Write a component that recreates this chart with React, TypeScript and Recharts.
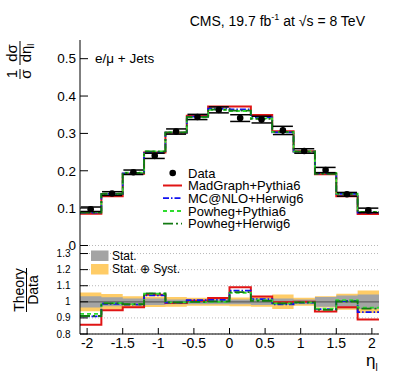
import React from 'react';
import {
  ComposedChart,
  Line,
  Scatter,
  ErrorBar,
  XAxis,
  YAxis,
  Area,
  ReferenceLine,
  CartesianGrid,
} from 'recharts';

// ---------- data ----------
const binEdges = [-2.1, -1.8, -1.5, -1.2, -0.9, -0.6, -0.3, 0, 0.3, 0.6, 0.9, 1.2, 1.5, 1.8, 2.1];
const binCenters = [-1.95, -1.65, -1.35, -1.05, -0.75, -0.45, -0.15, 0.15, 0.45, 0.75, 1.05, 1.35, 1.65, 1.95];

const dataValues = [0.097, 0.139, 0.196, 0.240, 0.305, 0.344, 0.363, 0.341, 0.337, 0.308, 0.253, 0.202, 0.137, 0.094];
const dataErrors = [0.006, 0.005, 0.006, 0.007, 0.007, 0.007, 0.008, 0.009, 0.009, 0.011, 0.006, 0.007, 0.005, 0.006];

const madgraphPythia6 = [0.085, 0.132, 0.192, 0.249, 0.302, 0.347, 0.372, 0.372, 0.349, 0.306, 0.252, 0.191, 0.132, 0.084];
const mcatnloHerwig6 = [0.088, 0.138, 0.193, 0.250, 0.302, 0.345, 0.366, 0.364, 0.343, 0.303, 0.251, 0.193, 0.138, 0.088];
const powhegPythia6 = [0.090, 0.139, 0.195, 0.252, 0.303, 0.343, 0.363, 0.360, 0.340, 0.304, 0.252, 0.194, 0.139, 0.090];
const powhegHerwig6 = [0.088, 0.138, 0.194, 0.252, 0.303, 0.344, 0.364, 0.361, 0.339, 0.304, 0.251, 0.192, 0.138, 0.090];

const ratioMadgraph = [0.858, 0.948, 0.966, 1.044, 0.992, 1.006, 1.023, 1.090, 1.033, 0.998, 1.000, 0.940, 0.966, 0.890];
const ratioMcatnlo = [0.910, 0.988, 0.982, 1.040, 0.995, 1.010, 1.012, 1.069, 1.017, 0.985, 0.995, 0.955, 1.004, 0.936];
const ratioPowhegPy = [0.925, 0.992, 0.986, 1.050, 0.996, 0.998, 1.000, 1.056, 1.010, 0.990, 0.997, 0.958, 1.010, 0.964];
const ratioPowhegHw = [0.912, 0.990, 0.985, 1.052, 0.996, 1.000, 1.003, 1.060, 1.006, 0.990, 0.996, 0.950, 1.002, 0.958];

const statRelErr = [0.035, 0.028, 0.020, 0.020, 0.015, 0.015, 0.015, 0.015, 0.020, 0.020, 0.015, 0.030, 0.040, 0.045];
const totalRelErr = [0.058, 0.048, 0.035, 0.032, 0.030, 0.025, 0.025, 0.027, 0.030, 0.045, 0.025, 0.035, 0.050, 0.070];

const xMajorTicks = [-2, -1.5, -1, -0.5, 0, 0.5, 1, 1.5, 2];
const upperYTicks = [0, 0.1, 0.2, 0.3, 0.4, 0.5];
const lowerYTicks = [0.8, 0.9, 1, 1.1, 1.2, 1.3];

const legendNames = ['Data', 'MadGraph+Pythia6', 'MC@NLO+Herwig6', 'Powheg+Pythia6', 'Powheg+Herwig6'];
const bandNames = ['Stat.', 'Stat. \u2295 Syst.'];

// ---------- styles ----------
const FONT = '"Liberation Sans", Arial, Helvetica, sans-serif';
const RED = '#e01414';
const BLUE = '#1010f0';
const LGREEN = '#2fdc2f';
const DGREEN = '#137a13';
const GRAY = '#a4a4a4';
const ORANGE = '#ffcc66';

const seq = (a: number, b: number, s: number) => {
  const out: number[] = [];
  const n = Math.round((b - a) / s);
  for (let i = 0; i <= n; i++) out.push(+(a + i * s).toFixed(4));
  return out;
};
const xMinorTicks = seq(-2.1, 2.1, 0.1);
const upperYMinor = seq(0, 0.54, 0.02);
const lowerYMinor = seq(0.8, 1.34, 0.02);

// ---------- tables ----------
const nBins = binCenters.length;
const upperTable = binEdges.map((x, i) => {
  const j = Math.min(i, nBins - 1);
  return {
    x,
    mg: madgraphPythia6[j],
    mc: mcatnloHerwig6[j],
    pp: powhegPythia6[j],
    ph: powhegHerwig6[j],
  };
});
const lowerTable = binEdges.map((x, i) => {
  const j = Math.min(i, nBins - 1);
  return {
    x,
    mg: ratioMadgraph[j],
    mc: ratioMcatnlo[j],
    pp: ratioPowhegPy[j],
    ph: ratioPowhegHw[j],
    stat: [1 - statRelErr[j], 1 + statRelErr[j]],
    tot: [1 - totalRelErr[j], 1 + totalRelErr[j]],
  };
});
const pointTable = binCenters.map((x, i) => ({ x, y: dataValues[i], err: dataErrors[i] }));

const DOMAIN_X: [number, number] = [-2.1, 2.1];
const tl = { stroke: '#000', strokeWidth: 1 };

const series = [
  { key: 'mg', color: RED, dash: undefined as string | undefined, width: 2 },
  { key: 'mc', color: BLUE, dash: '6 2 1.5 2', width: 1.8 },
  { key: 'pp', color: LGREEN, dash: '4 3', width: 1.8 },
  { key: 'ph', color: DGREEN, dash: '10 3 2 3', width: 1.8 },
];

function xAxes(majorLen: number, minorLen: number, withLabels: boolean, labelHeight: number) {
  return [
    <XAxis key="xm" xAxisId="xm" type="number" dataKey="x" domain={DOMAIN_X} allowDataOverflow
      ticks={xMinorTicks} interval={0} tick={false} tickLine={tl} tickSize={-minorLen} axisLine={false} height={0} />,
    <XAxis key="x" xAxisId="x" type="number" dataKey="x" domain={DOMAIN_X} allowDataOverflow
      ticks={xMajorTicks} interval={0}
      tick={withLabels ? { fill: '#000', fontSize: 14, fontFamily: FONT } : false}
      tickFormatter={(v: number) => String(v)}
      tickLine={tl} tickSize={-majorLen} tickMargin={majorLen + 4}
      axisLine={{ stroke: '#000', strokeWidth: 1 }} height={labelHeight} />,
    <XAxis key="xtm" xAxisId="xtm" orientation="top" type="number" dataKey="x" domain={DOMAIN_X} allowDataOverflow
      ticks={xMinorTicks} interval={0} tick={false} tickLine={tl} tickSize={-minorLen} axisLine={false} height={0} />,
    <XAxis key="xt" xAxisId="xt" orientation="top" type="number" dataKey="x" domain={DOMAIN_X} allowDataOverflow
      ticks={xMajorTicks} interval={0} tick={false} tickLine={tl} tickSize={-majorLen}
      axisLine={{ stroke: '#000', strokeWidth: 1 }} height={0} />,
  ];
}

function yAxes(domain: [number, number], major: number[], minor: number[], fmt: (v: number) => string,
  fontSize: number, margin: number, majorLen: number, minorLen: number) {
  return [
    <YAxis key="ym" yAxisId="ym" type="number" domain={domain} allowDataOverflow ticks={minor} interval={0}
      tick={false} tickLine={tl} tickSize={-minorLen} axisLine={false} width={0} />,
    <YAxis key="y" yAxisId="y" type="number" domain={domain} allowDataOverflow ticks={major} interval={0}
      tick={{ fill: '#000', fontSize, fontFamily: FONT }} tickFormatter={fmt}
      tickLine={tl} tickSize={-majorLen} tickMargin={majorLen + margin}
      axisLine={{ stroke: '#000', strokeWidth: 1 }} width={80} />,
    <YAxis key="yrm" yAxisId="yrm" orientation="right" type="number" domain={domain} allowDataOverflow ticks={minor}
      interval={0} tick={false} tickLine={tl} tickSize={-minorLen} axisLine={false} width={0} />,
    <YAxis key="yr" yAxisId="yr" orientation="right" type="number" domain={domain} allowDataOverflow ticks={major}
      interval={0} tick={false} tickLine={tl} tickSize={-majorLen}
      axisLine={{ stroke: '#000', strokeWidth: 1 }} width={0} />,
  ];
}

const DataDot = (props: any) => {
  const { cx, cy } = props;
  if (cx == null || cy == null) return null;
  return <circle cx={cx} cy={cy} r={3.3} fill="#000" />;
};

function UpperChart() {
  return (
    <ComposedChart width={399} height={262} data={upperTable}
      margin={{ top: 40, right: 20, bottom: 16.5, left: 0 }}>
      {xAxes(9, 5, false, 0)}
      {yAxes([0, 0.55], upperYTicks, upperYMinor, (v) => (v === 0 ? '0' : v.toFixed(1)), 13.5, 4, 8, 4)}
      {series.map((s) => (
        <Line key={s.key} xAxisId="x" yAxisId="y" type="stepAfter" dataKey={s.key} stroke={s.color}
          strokeWidth={s.width} strokeDasharray={s.dash} dot={false} activeDot={false}
          isAnimationActive={false} />
      ))}
      <Scatter xAxisId="x" yAxisId="y" data={pointTable} dataKey="y" shape={DataDot} isAnimationActive={false}>
        <ErrorBar dataKey="err" direction="y" width={10} stroke="#000" strokeWidth={1.5} />
      </Scatter>
    </ComposedChart>
  );
}

function LowerChart() {
  return (
    <ComposedChart width={399} height={383} data={lowerTable}
      margin={{ top: 245.5, right: 20, bottom: 0, left: 0 }}>
      {xAxes(6, 3, true, 49)}
      {yAxes([0.8, 1.35], lowerYTicks, lowerYMinor, (v) => (v === 1 ? '1' : v.toFixed(1)), 10, 9.5, 8, 4)}
      <CartesianGrid xAxisId="x" yAxisId="y" vertical={false} stroke="#b8b8b8" strokeDasharray="1 2" />
      <Area xAxisId="x" yAxisId="y" type="stepAfter" dataKey="tot" fill={ORANGE} fillOpacity={1} stroke="none"
        dot={false} activeDot={false} isAnimationActive={false} />
      <Area xAxisId="x" yAxisId="y" type="stepAfter" dataKey="stat" fill={GRAY} fillOpacity={1} stroke="none"
        dot={false} activeDot={false} isAnimationActive={false} />
      <ReferenceLine xAxisId="x" yAxisId="y" y={1} stroke="#606060" strokeWidth={1.2} />
      {series.map((s) => (
        <Line key={s.key} xAxisId="x" yAxisId="y" type="stepAfter" dataKey={s.key} stroke={s.color}
          strokeWidth={s.width} strokeDasharray={s.dash} dot={false} activeDot={false}
          isAnimationActive={false} />
      ))}
    </ComposedChart>
  );
}

function Overlay() {
  const legendY = [173, 185.5, 198.2, 211, 223.7];
  return (
    <svg width={399} height={383} style={{ position: 'absolute', left: 0, top: 0, pointerEvents: 'none' }}
      fontFamily={FONT}>
      {/* title */}
      <text x={365} y={26} fontSize={14} textAnchor="end" fill="#000">
        CMS, 19.7 fb<tspan fontSize={9} dy={-6}>-1</tspan>
        <tspan dy={6}> at </tspan>
        <tspan>{'\u221As = 8 TeV'}</tspan>
      </text>
      <text x={95} y={63} fontSize={13.5} fill="#000">{'e/\u03bc + Jets'}</text>

      {/* upper y title */}
      <g transform="translate(20,59) rotate(-90)" fill="#000">
        <text x={-15} y={-3} fontSize={15} textAnchor="middle">1</text>
        <text x={-15} y={11} fontSize={15} textAnchor="middle">{'\u03c3'}</text>
        <line x1={-20} x2={-10} y1={0} y2={0} stroke="#000" strokeWidth={1} />
        <text x={6} y={-3} fontSize={15} textAnchor="middle">{'d\u03c3'}</text>
        <text x={6} y={11} fontSize={15} textAnchor="middle">
          {'d\u03b7'}<tspan fontSize={9} dy={3}>l</tspan>
        </text>
        <line x1={-6} x2={18} y1={0} y2={0} stroke="#000" strokeWidth={1} />
      </g>

      {/* lower y title */}
      <g transform="translate(26.5,290) rotate(-90)" fill="#000">
        <text x={0} y={-2.5} fontSize={14} textAnchor="middle">Theory</text>
        <text x={0} y={11.5} fontSize={14} textAnchor="middle">Data</text>
        <line x1={-22} x2={22} y1={0} y2={0} stroke="#000" strokeWidth={1} />
      </g>

      {/* x title */}
      <text x={366} y={366} fontSize={17} fill="#000">
        {'\u03b7'}<tspan fontSize={10} dy={5}>l</tspan>
      </text>

      {/* main legend */}
      <circle cx={172.7} cy={legendY[0]} r={3.3} fill="#000" />
      {series.map((s, i) => (
        <line key={s.key} x1={163} x2={182} y1={legendY[i + 1]} y2={legendY[i + 1]} stroke={s.color}
          strokeWidth={s.width} strokeDasharray={s.dash} />
      ))}
      {legendNames.map((n, i) => (
        <text key={n} x={188} y={legendY[i] + 4.6} fontSize={13} fill="#000">{n}</text>
      ))}

      {/* band legend */}
      <rect x={91} y={250.5} width={17.5} height={10.5} fill={GRAY} />
      <rect x={91} y={264} width={17.5} height={10.5} fill={ORANGE} />
      <text x={112} y={259.8} fontSize={12} fill="#000">{bandNames[0]}</text>
      <text x={112} y={273.3} fontSize={12} fill="#000">{bandNames[1]}</text>
    </svg>
  );
}

export default function App() {
  return (
    <div style={{ position: 'absolute', left: 0, top: 0, width: 399, height: 383, background: '#fff', fontFamily: FONT }}>
      <div style={{ position: 'absolute', left: 0, top: 0 }}>
        <LowerChart />
      </div>
      <div style={{ position: 'absolute', left: 0, top: 0 }}>
        <UpperChart />
      </div>
      <Overlay />
    </div>
  );
}
